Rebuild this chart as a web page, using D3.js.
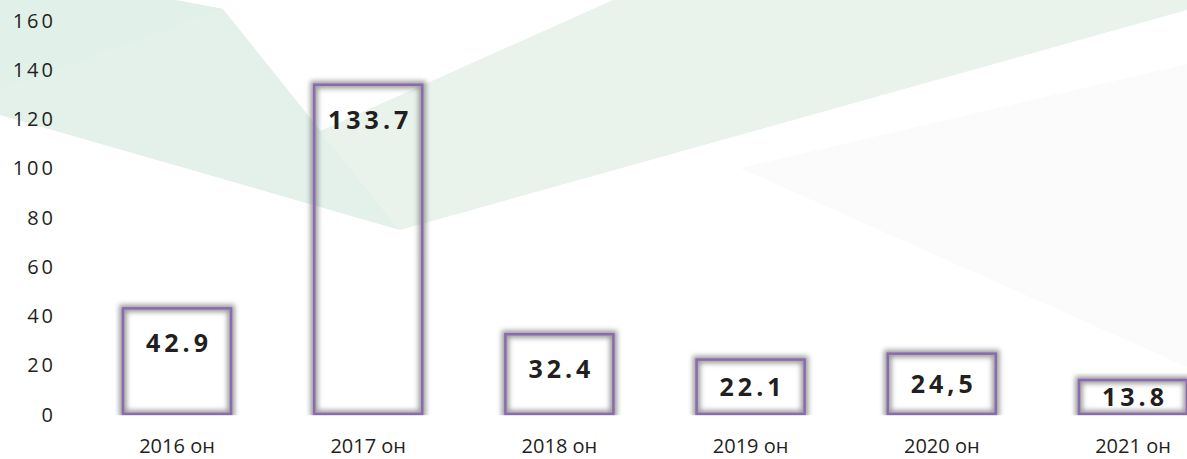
<!DOCTYPE html>
<html>
<head>
<meta charset="utf-8">
<script src="https://cdn.jsdelivr.net/npm/d3@7"></script>
<style>
  html, body { margin: 0; padding: 0; background: #fff; overflow: hidden; }
  svg { display: block; }
</style>
</head>
<body>
<div id="chart"></div>
<script>
// Data
const years = ["2016 он", "2017 он", "2018 он", "2019 он", "2020 он", "2021 он"];
const values = [42.9, 133.7, 32.4, 22.1, 24.5, 13.8];
const valueLabels = ["42.9", "133.7", "32.4", "22.1", "24,5", "13.8"];
const yTicks = [0, 20, 40, 60, 80, 100, 120, 140, 160];

const W = 1187, H = 459;

const svg = d3.select("#chart").append("svg")
  .attr("width", W)
  .attr("height", H);

const defs = svg.append("defs");
// glow round the boxes
const f = defs.append("filter").attr("id", "glow")
  .attr("x", "-20%").attr("y", "-20%").attr("width", "140%").attr("height", "140%");
f.append("feGaussianBlur").attr("stdDeviation", 2.6);
// boxes are cut at the baseline
defs.append("clipPath").attr("id", "plotClip")
  .append("rect").attr("x", 0).attr("y", 0).attr("width", W).attr("height", 415.3);

// background decoration
const bgShapes = [
  { pts: [[0,0],[175,0],[223,9],[400,230],[0,115]], fill: "#e3f1ea" },
  { pts: [[0,0],[175,0],[223,9],[0,90]], fill: "#e1f0e8" },
  { pts: [[320,131],[613,0],[1187,0],[1187,10],[400,230]], fill: "#e9f3ec" },
  { pts: [[740,168],[1187,64],[1187,367]], fill: "#fbfbfb" }
];
svg.append("g").selectAll("polygon")
  .data(bgShapes)
  .enter().append("polygon")
  .attr("points", d => d.pts.map(p => p.join(",")).join(" "))
  .attr("fill", d => d.fill);

// scales
const y = d3.scaleLinear().domain([0, 160]).range([414, 20]);
const x = d3.scaleBand()
  .domain(years)
  .range([81.4, 1228.6])
  .paddingInner(0.435)
  .paddingOuter(0.2175);

// Y axis labels only
const yAxis = svg.append("g")
  .attr("transform", "translate(56,0)")
  .attr("font-size", null)
  .call(d3.axisLeft(y).tickValues(yTicks).tickSize(0).tickPadding(0))
  .call(g => g.select(".domain").remove());
yAxis.selectAll("text")
  .attr("dy", "0.36em")
  .style("font-family", "'Open Sans', sans-serif")
  .style("font-size", "20px")
  .style("letter-spacing", "3px")
  .style("fill", "#231f20");

// X axis labels only
const xAxis = svg.append("g")
  .attr("transform", "translate(0,453)")
  .call(d3.axisBottom(x).tickSize(0).tickPadding(0))
  .call(g => g.select(".domain").remove());
xAxis.selectAll("text")
  .attr("dy", "0")
  .attr("y", 0)
  .style("font-family", "'Open Sans', sans-serif")
  .style("font-size", "20px")
  .style("fill", "#231f20");

const rows = years.map((c, i) => ({ cat: c, v: values[i], label: valueLabels[i] }));

const plot = svg.append("g").attr("clip-path", "url(#plotClip)");

// shadows
plot.append("g").selectAll("rect")
  .data(rows)
  .enter().append("rect")
  .attr("x", d => x(d.cat))
  .attr("y", d => y(d.v))
  .attr("width", x.bandwidth())
  .attr("height", d => y(0) - y(d.v))
  .attr("fill", "none")
  .attr("stroke", "#858585")
  .attr("stroke-width", 7.5)
  .attr("opacity", 0.8)
  .attr("filter", "url(#glow)");

// boxes
plot.append("g").selectAll("rect")
  .data(rows)
  .enter().append("rect")
  .attr("x", d => x(d.cat))
  .attr("y", d => y(d.v))
  .attr("width", x.bandwidth())
  .attr("height", d => y(0) - y(d.v))
  .attr("fill", "none")
  .attr("stroke", "#8a6bb1")
  .attr("stroke-width", 2.5);

// value labels
const ls = 4;
svg.append("g").selectAll("text")
  .data(rows)
  .enter().append("text")
  .attr("x", d => x(d.cat) + x.bandwidth() / 2 + ls / 2)
  .attr("y", d => {
    const top = y(d.v), bottom = y(0);
    return Math.min(top + 44, (top + bottom) / 2 + 9);
  })
  .attr("text-anchor", "middle")
  .style("font-family", "'Open Sans', sans-serif")
  .style("font-weight", "700")
  .style("font-size", "25px")
  .style("letter-spacing", ls + "px")
  .style("fill", "#231f20")
  .text(d => d.label);
</script>
</body>
</html>
